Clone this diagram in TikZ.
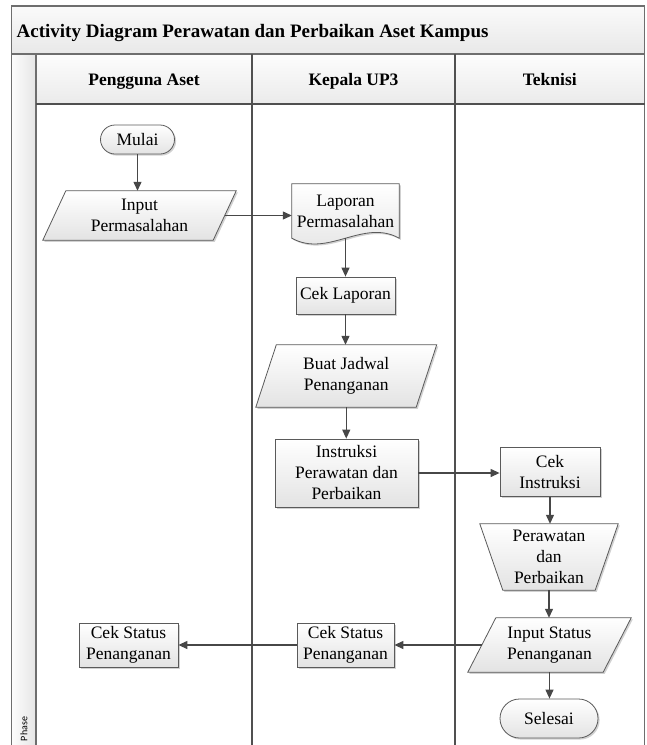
\documentclass[tikz,border=0pt]{standalone}
\usepackage{fontspec}
\setmainfont{Liberation Serif}
\newfontfamily\phasefont{Carlito}
\usetikzlibrary{arrows.meta,shapes.misc,shadows}
\pgfdeclarelayer{back}
\pgfdeclarelayer{body}
\pgfsetlayers{back,body,main}

\definecolor{framegray}{HTML}{6E6E6E}
\definecolor{lanegray}{HTML}{505050}
\definecolor{edgegray}{HTML}{5A5A5A}
\definecolor{arrowgray}{HTML}{474747}

\begin{document}
\begin{tikzpicture}[x=1pt,y=-1pt,
  txt/.style={font=\fontsize{17.5}{21}\selectfont, align=center, inner sep=0pt, text=black},
  fillgrad/.style={top color=white, bottom color=black!11},
  shad/.style={drop shadow={shadow xshift=1.6pt,shadow yshift=-1.6pt,opacity=.3,fill=black!60}},
  box/.style={txt, rectangle, draw=edgegray, line width=0.8pt, fillgrad, shad},
  term/.style={txt, rounded rectangle, draw=edgegray, line width=0.8pt, fillgrad, shad},
  outline/.style={draw=edgegray, line width=0.8pt, fillgrad, shad},
  bare/.style={txt},
  head/.style={font=\bfseries\fontsize{17.5}{21}\selectfont, inner sep=0pt, anchor=base},
  frameline/.style={draw=framegray, line width=1.1pt},
  laneline/.style={draw=lanegray, line width=1.3pt},
  flow/.style={draw=arrowgray, line width=1.2pt, -{Triangle[length=9pt,width=8pt]}}
]
\useasboundingbox (0,0) rectangle (646,745);

% ---- pool background: title band, phase column, lane headers
\begin{pgfonlayer}{back}
  \path[top color=black!2, bottom color=black!9] (11.5,6) rectangle (644.5,54);
  \path[left color=black!1, right color=black!10] (11.5,54) rectangle (36,745);
  \path[top color=black!1, bottom color=black!8] (36,54) rectangle (252,104);
  \path[top color=black!1, bottom color=black!8] (252,54) rectangle (455,104);
  \path[top color=black!1, bottom color=black!8] (455,54) rectangle (644.5,104);
\end{pgfonlayer}

% ---- pool frame and lane dividers
\draw[frameline] (11.5,745) -- (11.5,6) -- (644.5,6) -- (644.5,745);
\draw[frameline] (11.5,54) -- (644.5,54);
\draw[frameline] (36,54) -- (36,745);
\draw[laneline] (36,104) -- (644.5,104);
\draw[laneline] (252,54) -- (252,745);
\draw[laneline] (455,54) -- (455,745);

% ---- titles
\node[font=\bfseries\fontsize{19}{23}\selectfont, inner sep=0pt, anchor=base west] (title) at (16.5,37)
  {Activity Diagram Perawatan dan Perbaikan Aset Kampus};
\node[head] (h1) at (144,85) {Pengguna Aset};
\node[head] (h2) at (353.5,85) {Kepala UP3};
\node[head] (h3) at (549.75,85) {Teknisi};
\node[rotate=90, font=\phasefont\fontsize{10}{12}\selectfont, inner sep=0pt] (phase) at (24,729) {Phase};

% ---- activities
\node[term, minimum width=74pt, minimum height=29pt] (mulai) at (137.5,139.5) {Mulai};
\node[bare, minimum width=170pt, minimum height=49pt] (inp) at (139.5,215.5) {Input\\Permasalahan};
\node[bare, minimum width=107pt, minimum height=54pt] (lap) at (345.5,211) {Laporan\\Permasalahan};
\node[box, minimum width=99pt, minimum height=37pt] (cekl) at (345.5,295.5) {Cek Laporan};
\node[bare, minimum width=160pt, minimum height=62pt] (jadwal) at (346.25,376) {Buat Jadwal\\Penanganan};
\node[box, minimum width=143pt, minimum height=68pt] (instr) at (346.5,473) {Instruksi\\Perawatan dan\\Perbaikan};
\node[box, minimum width=100pt, minimum height=49pt] (ceki) at (550,472) {Cek\\Instruksi};
\node[bare, minimum width=115pt, minimum height=66pt] (rawat) at (549,557) {Perawatan\\dan\\Perbaikan};
\node[bare, minimum width=135pt, minimum height=54pt] (instat) at (549.5,645) {Input Status\\Penanganan};
\node[term, minimum width=98pt, minimum height=39pt] (selesai) at (549,718.5) {Selesai};
\node[box, minimum width=97pt, minimum height=44pt] (cekst) at (345.5,645) {Cek Status\\Penanganan};
\node[box, minimum width=99pt, minimum height=44pt] (cekpg) at (128.5,645) {Cek Status\\Penanganan};

% ---- outlines of the non-rectangular activities
\begin{pgfonlayer}{body}
  % data input (parallelogram)
  \path[outline] ([xshift=11.5pt]inp.north west) -- ([xshift=11.5pt]inp.north east)
    -- ([xshift=-11.5pt]inp.south east) -- ([xshift=-11.5pt]inp.south west) -- cycle;
  % document
  \path[outline] (lap.north west) -- (lap.north east) -- (lap.south east)
    .. controls ([xshift=-36pt,yshift=20pt]lap.south east) and ([xshift=36pt,yshift=-20pt]lap.south west)
    .. (lap.south west) -- cycle;
  % schedule input (parallelogram)
  \path[outline] ([xshift=10.25pt]jadwal.north west) -- ([xshift=10.25pt]jadwal.north east)
    -- ([xshift=-10.25pt]jadwal.south east) -- ([xshift=-10.25pt]jadwal.south west) -- cycle;
  % manual operation (trapezoid)
  \path[outline] ([xshift=-11.5pt]rawat.north west) -- ([xshift=11.5pt]rawat.north east)
    -- ([xshift=-11.5pt]rawat.south east) -- ([xshift=11.5pt]rawat.south west) -- cycle;
  % status input (parallelogram)
  \path[outline] ([xshift=14pt]instat.north west) -- ([xshift=14pt]instat.north east)
    -- ([xshift=-14pt]instat.south east) -- ([xshift=-14pt]instat.south west) -- cycle;
\end{pgfonlayer}

% ---- control flow
\draw[flow] (mulai.south) -- (mulai.south |- inp.north);
\draw[flow] (inp.east) -- (inp.east -| lap.west);
\draw[flow] (lap.south) -- (cekl.north);
\draw[flow] (cekl.south) -- (cekl.south |- jadwal.north);
\draw[flow] (jadwal.south) -- (jadwal.south |- instr.north);
\draw[flow] (instr.east) -- (instr.east -| ceki.west);
\draw[flow] (ceki.south) -- (ceki.south |- rawat.north);
\draw[flow] (rawat.south) -- (rawat.south |- instat.north);
\draw[flow] (instat.south) -- (instat.south |- selesai.north);
\draw[flow] (instat.west) -- (cekst.east);
\draw[flow] (cekst.west) -- (cekpg.east);
\end{tikzpicture}
\end{document}
